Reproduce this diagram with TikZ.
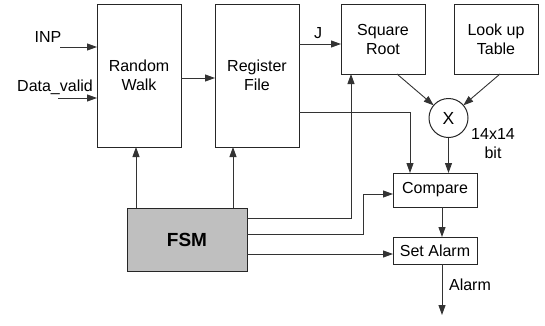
\documentclass[tikz,border=0pt]{standalone}
\usepackage{fontspec}
\setmainfont{Liberation Sans}
\usetikzlibrary{arrows.meta,calc}
\begin{document}
\begin{tikzpicture}[x=1pt,y=-1pt,
  every node/.style={font=\fontsize{16}{19}\selectfont, inner sep=0pt, outer sep=0pt},
  blk/.style={draw=black!85, line width=1pt, rectangle, align=center},
  wire/.style={draw=black!80, line width=0.9pt},
  arr/.style={wire, -{Triangle[length=10pt,width=7pt]}},
  lbl/.style={align=center}
]
\useasboundingbox (0,0) rectangle (545,325);
\node[blk, minimum width=84pt, minimum height=143pt] (rw) at (139,75.5) {Random\\Walk};
\node[blk, minimum width=84pt, minimum height=143pt] (rf) at (257,75.5) {Register\\File};
\node[blk, minimum width=84pt, minimum height=70pt] (sr) at (383,39) {Square\\Root};
\node[blk, minimum width=84pt, minimum height=70pt] (lut) at (496,39) {Look up\\Table};
\node[blk, circle, minimum size=39pt, font=\fontsize{17.5}{20}\selectfont] (mx) at (448.5,118) {X};
\node[blk, minimum width=84pt, minimum height=34pt] (cmp) at (435,190) {Compare};
\node[blk, minimum width=84pt, minimum height=27pt] (sa) at (435,250.5) {Set Alarm};
\node[blk, fill=black!25, minimum width=120pt, minimum height=63pt, font=\fontsize{19}{22}\selectfont\bfseries] (fsm) at (187,239.5) {FSM};

\node[lbl] (inp) at (48,37) {INP};
\node[lbl] (dv) at (55,87) {Data\_valid};
\node[lbl] (j) at (318,33) {J};
\node[lbl] (bits) at (493,144) {14x14\\bit};
\node[lbl] (alarm) at (470,285) {Alarm};

\coordinate (inps) at (60,47);
\coordinate (dvs) at (58,98);
\draw[arr] (inps) -- (inps -| rw.west);
\draw[arr] (dvs) -- (dvs -| rw.west);
\coordinate (rwo) at (181,78);
\draw[arr] (rwo) -- (rwo -| rf.west);
\coordinate (rfj) at (299,44);
\draw[arr] (rfj) -- (rfj -| sr.west);
\draw[arr] ($(sr.south)+(14,0)$) -- (mx);
\draw[arr] ($(lut.south)+(4,0)$) -- (mx);
\draw[arr] (mx.south) -- (mx.south |- cmp.north);
\coordinate (rfc) at (299,112);
\coordinate (cin1) at (410,112);
\draw[arr] (rfc) -- (cin1) -- (cin1 |- cmp.north);
\coordinate (f1) at ($(fsm.north west)+(9,0)$);
\draw[arr] (f1) -- (f1 |- rw.south);
\coordinate (f2) at ($(fsm.north west)+(106,0)$);
\draw[arr] (f2) -- (f2 |- rf.south);
\coordinate (fa) at (247,218);
\coordinate (fb) at (351,218);
\draw[arr] (fa) -- (fb) -- (fb |- sr.south);
\coordinate (fc) at (247,234);
\coordinate (fd) at (363,234);
\coordinate (fe) at (363,194);
\draw[arr] (fc) -- (fd) -- (fe) -- (fe -| cmp.west);
\coordinate (fg) at (247,254);
\draw[arr] (fg) -- (fg -| sa.west);
\coordinate (cs) at (442,207);
\draw[arr] (cs) -- (cs |- sa.north);
\coordinate (ss) at (442,264);
\coordinate (alend) at (442,315);
\draw[arr] (ss) -- (alend);
\end{tikzpicture}
\end{document}
